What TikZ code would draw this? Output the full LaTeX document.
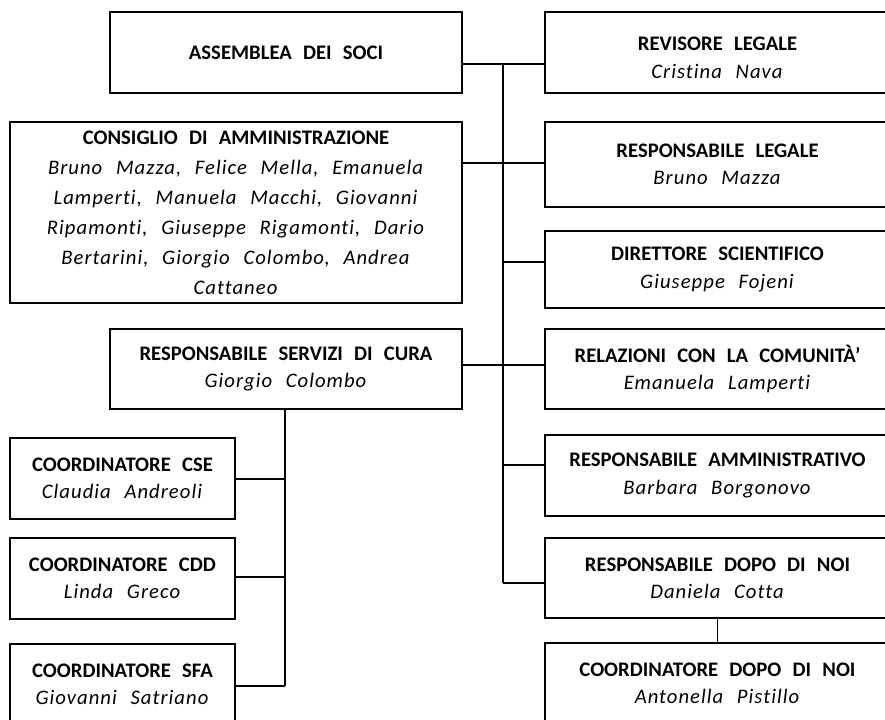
\documentclass[tikz,border=0pt]{standalone}
\usepackage{fontspec}
\setmainfont{Carlito}[WordSpace=2.4, Ligatures=NoCommon,
    ItalicFeatures={LetterSpace=5}]
\newcommand\pxu{0.75pt}
\begin{document}
\begin{tikzpicture}[x=0.75pt, y=-0.75pt, line width=0.9pt,
        box/.style={draw, inner sep=0pt, align=center,
            font=\fontsize{15.5}{20.5}\selectfont},
        wbox/.style={box, minimum width=345*\pxu, minimum height=81*\pxu}]
        \useasboundingbox (0,0) rectangle (885,719);
        \clip (0,0) rectangle (885,719);

        % left column
        \node [box, minimum width=352*\pxu, minimum height=81*\pxu] (assemblea) at (286,52.5)
            {\textbf{ASSEMBLEA DEI SOCI}};
        \node [box, minimum width=452*\pxu, minimum height=181*\pxu,
            font=\fontsize{15.5}{22.5}\selectfont] (cda) at (236,212.5)
            {\textbf{CONSIGLIO DI AMMINISTRAZIONE}\\
             \textit{Bruno Mazza, Felice Mella, Emanuela}\\
             \textit{Lamperti, Manuela Macchi, Giovanni}\\
             \textit{Ripamonti, Giuseppe Rigamonti, Dario}\\
             \textit{Bertarini, Giorgio Colombo, Andrea}\\
             \textit{Cattaneo}};
        \node [box, minimum width=352*\pxu, minimum height=80*\pxu] (servizi) at (286,369)
            {\textbf{RESPONSABILE SERVIZI DI CURA}\\ \textit{Giorgio Colombo}};
        \node [box, minimum width=225*\pxu, minimum height=81*\pxu] (cse) at (122.5,478.5)
            {\textbf{COORDINATORE CSE}\\ \textit{Claudia Andreoli}};
        \node [box, minimum width=225*\pxu, minimum height=81*\pxu] (cdd) at (122.5,578.5)
            {\textbf{COORDINATORE CDD}\\ \textit{Linda Greco}};
        \node [box, minimum width=225*\pxu, minimum height=81*\pxu] (sfa) at (122.5,684.5)
            {\textbf{COORDINATORE SFA}\\ \textit{Giovanni Satriano}};

        % right column
        \node [wbox] (revisore) at (717.5,52.5)
            {\rule{0pt}{18pt}\textbf{REVISORE LEGALE}\\ \textit{Cristina Nava}};
        \node [wbox, minimum height=85*\pxu] (legale) at (717.5,164.5)
            {\textbf{RESPONSABILE LEGALE}\\ \textit{Bruno Mazza}};
        \node [wbox, minimum height=77*\pxu] (direttore) at (717.5,269.5)
            {\textbf{DIRETTORE SCIENTIFICO}\\ \textit{Giuseppe Fojeni}};
        \node [wbox, minimum height=80*\pxu] (relazioni) at (717.5,369)
            {\textbf{RELAZIONI CON LA COMUNITÀ’}\\ \textit{Emanuela Lamperti}};
        \node [wbox] (amministrativo) at (717.5,475.5)
            {\textbf{RESPONSABILE AMMINISTRATIVO}\\ \textit{Barbara Borgonovo}};
        \node [wbox, minimum height=80*\pxu] (dopo) at (717.5,578)
            {\textbf{RESPONSABILE DOPO DI NOI}\\ \textit{Daniela Cotta}};
        \node [wbox] (coorddopo) at (717.5,683.5)
            {\textbf{COORDINATORE DOPO DI NOI}\\ \textit{Antonella Pistillo}};

        % connectors
        \coordinate (rtop) at (503,64);
        \coordinate (rbot) at (503,583);
        \coordinate (ltop) at (servizi.south -| 285,0);
        \coordinate (lbot) at (285,686);
        \draw (rtop) -- (rbot);
        \draw (ltop) -- (lbot);

        \draw (assemblea.east |- rtop) -- (revisore.west |- rtop);
        \draw (cda.east |- 0,163) -- (legale.west |- 0,163);
        \draw (rtop |- 0,262) -- (direttore.west |- 0,262);
        \draw (servizi.east |- 0,365) -- (relazioni.west |- 0,365);
        \draw (rtop |- 0,465) -- (amministrativo.west |- 0,465);
        \draw (rbot) -- (dopo.west |- rbot);
        \draw (dopo.south) -- (coorddopo.north);

        \draw (ltop |- 0,479) -- (cse.east |- 0,479);
        \draw (ltop |- 0,577) -- (cdd.east |- 0,577);
        \draw (lbot) -- (sfa.east |- lbot);
    \end{tikzpicture}
\end{document}
